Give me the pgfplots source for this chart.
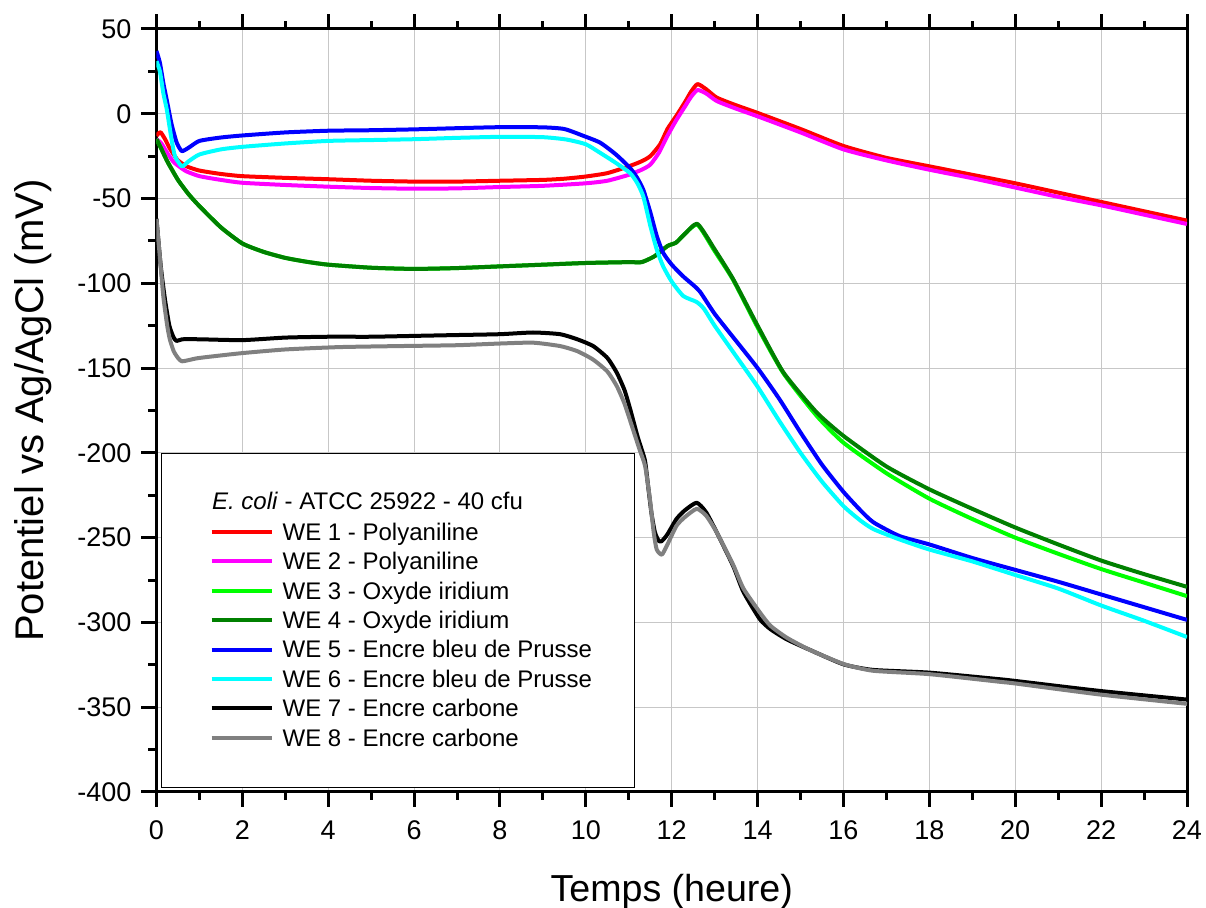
\documentclass[border=0pt]{standalone}
\usepackage{fontspec}
\setmainfont{Liberation Sans}
\usepackage{pgfplots}
\pgfplotsset{compat=1.18}
\definecolor{cRed}{RGB}{255,0,0}
\definecolor{cMag}{RGB}{255,0,255}
\definecolor{cLime}{RGB}{0,255,0}
\definecolor{cDGreen}{RGB}{0,128,0}
\definecolor{cBlue}{RGB}{0,0,255}
\definecolor{cCyan}{RGB}{0,255,255}
\definecolor{cGrey}{RGB}{128,128,128}
\begin{document}
\begin{tikzpicture}
\useasboundingbox (-78.25pt,-58pt) rectangle (524.75pt,396pt);
\begin{axis}[
  at={(0,0)}, anchor=south west,
  scale only axis, width=515.25pt, height=381.5pt,
  xmin=0, xmax=24, ymin=-400, ymax=50,
  xtick={0,2,4,6,8,10,12,14,16,18,20,22,24},
  xticklabels={0,2,4,6,8,10,12,14,16,18,20,22,24},
  ytick={-400,-350,-300,-250,-200,-150,-100,-50,0,50},
  yticklabels={-400,-350,-300,-250,-200,-150,-100,-50,0,50},
  minor x tick num=1, minor y tick num=1,
  tick align=inside,
  xtick pos=both, ytick pos=left,
  xticklabel pos=lower,
  major tick length=-7.5pt, minor tick length=-4pt,
  every tick/.style={black, line width=1.5pt},
  axis line style={line width=1.5pt},
  grid=major,
  major grid style={line width=0.5pt, color=black!22},
  ticklabel style={font=\fontsize{13.5}{16}\selectfont},
  xticklabel style={yshift=-11pt},
  yticklabel style={xshift=-9pt},
  xlabel={Temps (heure)},
  ylabel={Potentiel vs Ag/AgCl (mV)},
  xlabel style={font=\fontsize{18.8}{22}\selectfont, at={(axis description cs:0.5,-0.1438)}, anchor=base},
  ylabel style={font=\fontsize{20}{24}\selectfont, at={(axis description cs:-0.1095,0.5)}, anchor=base},
  legend cell align=left,
  legend style={at={(0.0512,0.3565)}, anchor=north west, draw=none, fill=none,
    inner sep=0pt, font=\fontsize{12}{14}\selectfont,
    nodes={inner sep=0pt, text height=10pt, text depth=1.7pt},
    /tikz/row sep=3pt, /tikz/column sep=4.2pt},
  legend image code/.code={\draw[#1, sharp plot] (0pt,0pt) -- (30.3pt,0pt);},
  every axis plot/.append style={no marks, line width=2pt, line join=round, smooth, tension=0.35},
]
% WE1
\addplot[cRed] coordinates {(0,-13) (0.05,-11.5) (0.1,-11) (0.2,-15) (0.3,-20) (0.4,-24) (0.5,-27.5) (0.7,-31) (1,-33.5) (1.5,-35.5) (2,-36.8) (3,-37.8) (4,-38.6) (5,-39.5) (6,-40) (7,-40) (8,-39.5) (9,-39) (9.5,-38.3) (10,-37) (10.5,-35) (11,-31) (11.3,-28) (11.5,-25) (11.73,-18) (11.9,-9) (12.1,-1.5) (12.3,6.5) (12.45,13) (12.6,17.5) (12.8,14.5) (13.05,9.5) (13.5,5) (14,0.5) (15,-9) (16,-19) (17,-26) (18,-31) (19,-36) (20,-41) (21,-46.5) (22,-52) (23,-57.5) (24,-63)};
\addlegendentry{WE 1 - Polyaniline}
% WE2
\addplot[cMag] coordinates {(0,-15) (0.1,-17) (0.2,-21) (0.3,-25) (0.4,-28.5) (0.55,-31.5) (0.7,-34) (1,-36.8) (1.5,-39) (2,-40.7) (3,-42) (4,-43) (5,-43.8) (6,-44.2) (7,-44) (8,-43.2) (9,-42.5) (10,-41) (10.5,-39.5) (11,-36) (11.3,-33) (11.5,-30) (11.7,-23) (11.9,-13) (12.1,-4) (12.3,4) (12.45,10) (12.6,14) (12.8,12) (13.05,7.5) (13.5,3) (14,-1.5) (15,-11) (16,-21) (17,-27.5) (18,-33) (19,-38) (20,-43.5) (21,-49) (22,-54) (23,-59.5) (24,-65)};
\addlegendentry{WE 2 - Polyaniline}
% WE3
\addplot[cLime] coordinates {(0,-15) (0.1,-20) (0.25,-28) (0.5,-39) (0.75,-47.5) (1,-54.5) (1.5,-67) (2,-76.5) (2.5,-81.5) (3,-85) (3.5,-87.3) (4,-89) (5,-90.8) (6,-91.5) (7,-91) (8,-90) (9,-89) (10,-88) (11,-87.5) (11.3,-87.5) (11.6,-84) (11.9,-78) (12.1,-76) (12.3,-71) (12.6,-65.5) (13,-81) (13.43,-98) (14,-126) (14.6,-153) (15.37,-178) (16,-194) (17,-212) (18,-227) (19,-239) (20,-250) (21,-259.5) (22,-268.5) (23,-276.5) (24,-284.5)};
\addlegendentry{WE 3 - Oxyde iridium}
% WE4
\addplot[cDGreen] coordinates {(0,-15) (0.1,-20) (0.25,-28) (0.5,-39) (0.75,-47.5) (1,-54.5) (1.5,-67) (2,-76.5) (2.5,-81.5) (3,-85) (3.5,-87.3) (4,-89) (5,-90.8) (6,-91.5) (7,-91) (8,-90) (9,-89) (10,-88) (11,-87.5) (11.3,-87.5) (11.6,-84) (11.9,-78) (12.1,-76) (12.3,-71) (12.6,-65) (13,-80) (13.43,-97.5) (14,-125) (14.6,-152.5) (15.37,-176) (16,-190) (17,-208) (18,-221.5) (19,-233) (20,-244) (21,-254) (22,-263.5) (23,-271.5) (24,-279)};
\addlegendentry{WE 4 - Oxyde iridium}
% WE5
\addplot[cBlue] coordinates {(0,37) (0.08,30) (0.16,18) (0.24,8) (0.35,-6) (0.47,-17) (0.59,-22) (0.75,-20) (1,-16) (1.5,-14) (2,-12.8) (3,-11) (4,-10) (5,-9.7) (6,-9.2) (7,-8.5) (8,-7.9) (9,-8) (9.5,-9) (9.94,-13) (10.33,-17) (10.7,-24) (11.03,-32) (11.2,-38) (11.34,-45) (11.5,-58) (11.65,-72) (11.8,-82) (12,-89) (12.27,-96) (12.5,-101) (12.66,-105) (13,-118) (13.5,-134) (14,-150) (14.5,-168) (15,-188) (15.5,-207) (16,-223) (16.4,-234) (16.7,-241) (17.3,-249) (18,-254) (19,-262) (20,-269) (21,-276) (22,-283.5) (23,-291) (24,-298.5)};
\addlegendentry{WE 5 - Encre bleu de Prusse}
% WE6
\addplot[cCyan] coordinates {(0,31) (0.08,25) (0.16,12) (0.24,2.5) (0.35,-15) (0.43,-25) (0.59,-31) (0.75,-28) (1,-24) (1.5,-21) (2,-19.5) (3,-17.5) (4,-16) (5,-15.5) (6,-15) (7,-14.2) (8,-13.6) (9,-13.8) (9.55,-15.2) (10,-18) (10.33,-23) (10.7,-29) (11.03,-35) (11.2,-41) (11.34,-49) (11.5,-66) (11.65,-80) (11.8,-90) (12,-99) (12.27,-107.5) (12.58,-111) (12.75,-115) (13,-125) (13.5,-143) (14,-161) (14.5,-181) (15,-200) (15.5,-217) (16,-231.4) (16.4,-240) (16.7,-245) (17.3,-251) (18,-257) (19,-264) (20,-272) (21,-280) (22,-290) (23,-299) (24,-308.6)};
\addlegendentry{WE 6 - Encre bleu de Prusse}
% WE7
\addplot[black] coordinates {(0,-62) (0.1,-90) (0.2,-110) (0.3,-125) (0.4,-132) (0.47,-134) (0.6,-133) (1,-133) (2,-133.5) (3,-132) (4,-131.5) (5,-131.5) (6,-131) (7,-130.5) (8,-130) (8.77,-129) (9.4,-130) (9.8,-133) (10.17,-137) (10.5,-144) (10.72,-152.7) (10.9,-163) (11.03,-174) (11.2,-190) (11.3,-198) (11.38,-205) (11.45,-219.6) (11.53,-236) (11.61,-247) (11.7,-252) (11.77,-252) (11.9,-248) (12.11,-239) (12.3,-234) (12.58,-229.4) (12.8,-235) (13.05,-247) (13.43,-266.7) (13.67,-282) (14.05,-298) (14.3,-304) (14.68,-310) (15.2,-316) (16,-324.7) (16.69,-328) (18,-329.6) (19.64,-333.5) (20,-334.5) (21.97,-340.4) (24,-345.5)};
\addlegendentry{WE 7 - Encre carbone}
% WE8
\addplot[cGrey] coordinates {(0,-62) (0.08,-85) (0.16,-108) (0.25,-125) (0.31,-133) (0.4,-140) (0.5,-144) (0.59,-146) (0.8,-145) (1,-144) (1.94,-141.3) (3,-139) (4.27,-137.6) (5.67,-137) (7,-136.5) (8,-135.5) (8.77,-135) (9.4,-137) (9.8,-140) (10.17,-145) (10.5,-152) (10.72,-160.6) (10.9,-171) (11.07,-184) (11.25,-198) (11.38,-207.8) (11.49,-227) (11.58,-247) (11.65,-257) (11.77,-260) (11.9,-254) (12.11,-243) (12.3,-238) (12.58,-233) (12.8,-237) (13.05,-247) (13.43,-266) (13.67,-280) (14.05,-294) (14.3,-302) (14.68,-309) (15.2,-316) (16,-324.5) (16.69,-328.5) (18,-330.5) (19.64,-335) (20,-336) (21.97,-342.5) (24,-348)};
\addlegendentry{WE 8 - Encre carbone}
\draw[line width=0.7pt, fill=white] (rel axis cs:0.005,0.006) rectangle (rel axis cs:0.464,0.444);
\node[anchor=base west, inner sep=0pt, font=\fontsize{12}{14}\selectfont] at (rel axis cs:0.0536,0.3696) {\textit{E. coli} - ATCC 25922 - 40 cfu};
\end{axis}
\end{tikzpicture}
\end{document}
